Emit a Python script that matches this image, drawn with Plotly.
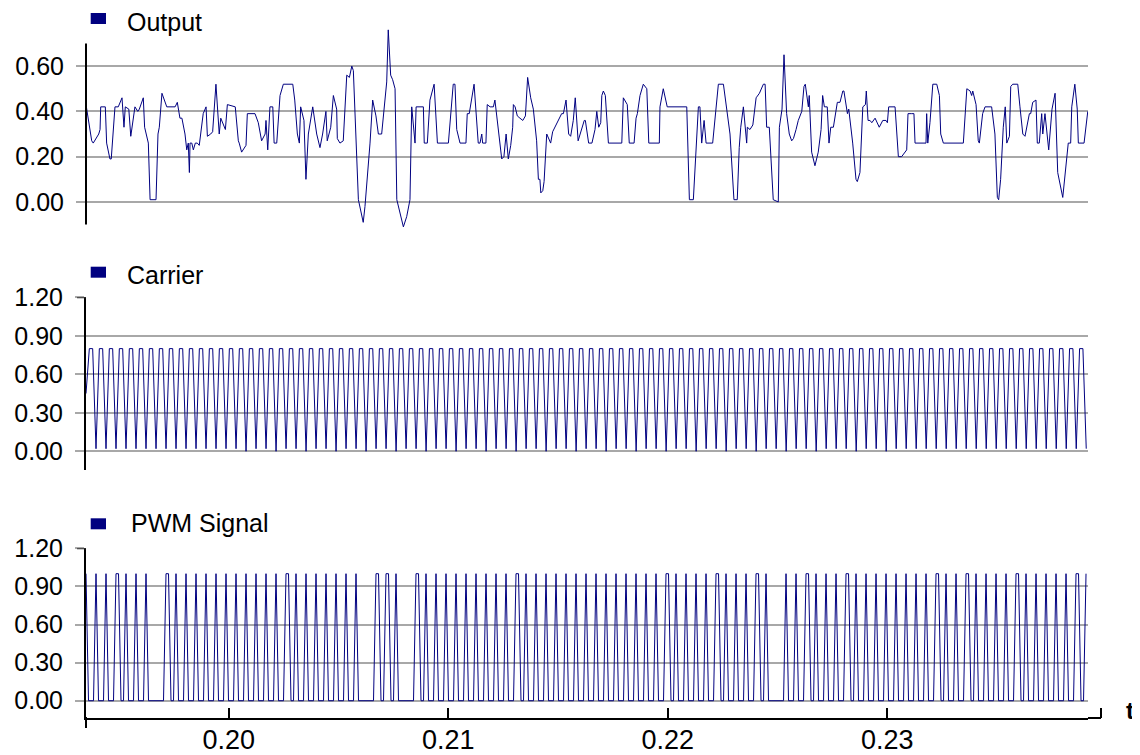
import plotly.graph_objects as go

# ---------------- data (times in milliseconds) ----------------
out_time_ms = [
    193.50, 193.76, 193.83, 193.99, 194.08, 194.14, 194.17, 194.38, 194.44, 194.59,
    194.65, 194.82, 194.97, 195.14, 195.23, 195.29, 195.45, 195.54, 195.73, 195.86,
    195.93, 196.11, 196.17, 196.34, 196.42, 196.69, 196.78, 196.84, 196.96, 197.18,
    197.56, 197.66, 197.78, 197.87, 198.01, 198.09, 198.16, 198.21, 198.24, 198.32,
    198.39, 198.48, 198.57, 198.66, 198.84, 198.97, 199.03, 199.18, 199.27, 199.42,
    199.57, 199.64, 199.76, 199.85, 199.94, 200.30, 200.44, 200.48, 200.59, 200.79,
    200.85, 201.20, 201.35, 201.50, 201.66, 201.70, 201.78, 201.88, 202.01, 202.07,
    202.19, 202.34, 202.49, 202.92, 203.01, 203.13, 203.22, 203.28, 203.43, 203.52,
    203.63, 203.83, 204.01, 204.16, 204.28, 204.43, 204.49, 204.65, 204.77, 204.92,
    204.95, 205.07, 205.22, 205.38, 205.50, 205.61, 205.68, 205.91, 206.13, 206.21,
    206.44, 206.56, 206.71, 206.82, 206.97, 207.20, 207.27, 207.38, 207.47, 207.58,
    207.66, 207.96, 208.11, 208.26, 208.34, 208.49, 208.54, 208.87, 208.91, 209.05,
    209.17, 209.36, 209.51, 210.01, 210.23, 210.31, 210.39, 210.54, 210.81, 210.87,
    210.96, 211.18, 211.37, 211.45, 211.53, 211.57, 211.72, 211.78, 211.91, 212.06,
    212.13, 212.28, 212.44, 212.54, 212.64, 212.74, 212.85, 212.94, 212.97, 213.05,
    213.15, 213.27, 213.40, 213.52, 213.62, 213.76, 213.88, 214.03, 214.11, 214.18,
    214.22, 214.31, 214.37, 214.49, 214.67, 214.76, 214.87, 214.95, 215.02, 215.17,
    215.25, 215.37, 215.49, 215.58, 215.70, 215.79, 215.92, 216.01, 216.10, 216.20,
    216.25, 216.40, 216.55, 216.69, 216.77, 216.86, 216.95, 217.00, 217.07, 217.16,
    217.30, 217.91, 217.98, 218.16, 218.25, 218.47, 218.56, 218.62, 218.74, 218.89,
    219.05, 219.14, 219.62, 219.65, 219.80, 219.98, 220.87, 220.99, 221.17, 221.29,
    221.40, 221.47, 221.55, 221.66, 221.75, 222.05, 222.20, 222.31, 222.54, 222.69,
    222.84, 223.02, 223.17, 223.26, 223.33, 223.45, 223.60, 223.63, 223.75, 223.88,
    224.03, 224.18, 224.36, 224.44, 224.51, 224.63, 224.81, 225.04, 225.09, 225.21,
    225.30, 225.42, 225.54, 225.65, 225.73, 225.85, 225.95, 226.11, 226.21, 226.27,
    226.41, 226.45, 226.56, 226.71, 226.86, 226.99, 227.06, 227.14, 227.27, 227.35,
    227.43, 227.55, 227.73, 227.85, 227.98, 228.03, 228.19, 228.25, 228.43, 228.58,
    228.64, 228.76, 228.89, 229.01, 229.05, 229.13, 229.22, 229.30, 229.45, 229.64,
    229.80, 229.95, 230.01, 230.07, 230.36, 230.51, 230.66, 230.89, 230.95, 231.12,
    231.22, 231.27, 231.77, 231.80, 231.85, 231.95, 232.08, 232.26, 232.38, 232.44,
    232.56, 233.47, 233.63, 233.78, 233.85, 233.90, 234.05, 234.15, 234.20, 234.35,
    234.46, 234.76, 234.91, 235.02, 235.08, 235.17, 235.29, 235.38, 235.45, 235.57,
    235.63, 235.72, 235.95, 236.05, 236.18, 236.28, 236.36, 236.48, 236.54, 236.63,
    236.78, 236.84, 236.93, 237.04, 237.09, 237.19, 237.36, 237.51, 237.65, 237.77,
    238.00, 238.15, 238.25, 238.36, 238.41, 238.55, 238.66, 238.71, 238.97, 239.14,
]
out_value = [
    0.43, 0.27, 0.26, 0.29, 0.30, 0.32, 0.42, 0.42, 0.26, 0.19,
    0.19, 0.42, 0.42, 0.46, 0.33, 0.42, 0.41, 0.29, 0.42, 0.40,
    0.41, 0.46, 0.33, 0.26, 0.01, 0.01, 0.30, 0.33, 0.48, 0.42,
    0.42, 0.44, 0.37, 0.37, 0.30, 0.23, 0.26, 0.13, 0.26, 0.26,
    0.23, 0.26, 0.26, 0.25, 0.39, 0.42, 0.29, 0.30, 0.31, 0.52,
    0.30, 0.37, 0.34, 0.32, 0.43, 0.42, 0.27, 0.26, 0.22, 0.25,
    0.39, 0.39, 0.35, 0.27, 0.30, 0.36, 0.23, 0.42, 0.42, 0.26,
    0.26, 0.47, 0.52, 0.52, 0.45, 0.30, 0.26, 0.42, 0.36, 0.10,
    0.30, 0.42, 0.30, 0.24, 0.30, 0.40, 0.27, 0.33, 0.47, 0.41,
    0.28, 0.26, 0.27, 0.56, 0.55, 0.60, 0.58, 0.01, -0.09, -0.02,
    0.26, 0.45, 0.38, 0.30, 0.30, 0.53, 0.76, 0.56, 0.54, 0.50,
    0.01, -0.11, -0.065, 0.01, 0.42, 0.26, 0.42, 0.42, 0.26, 0.26,
    0.45, 0.52, 0.26, 0.26, 0.52, 0.52, 0.32, 0.26, 0.26, 0.39,
    0.39, 0.52, 0.26, 0.26, 0.30, 0.26, 0.26, 0.43, 0.42, 0.42,
    0.45, 0.33, 0.19, 0.20, 0.30, 0.19, 0.25, 0.33, 0.43, 0.42,
    0.38, 0.37, 0.36, 0.38, 0.55, 0.46, 0.41, 0.27, 0.10, 0.10,
    0.04, 0.05, 0.09, 0.30, 0.26, 0.31, 0.33, 0.35, 0.36, 0.39,
    0.39, 0.45, 0.30, 0.29, 0.36, 0.46, 0.27, 0.30, 0.32, 0.36,
    0.36, 0.26, 0.26, 0.32, 0.40, 0.33, 0.35, 0.47, 0.49, 0.47,
    0.26, 0.26, 0.46, 0.43, 0.26, 0.26, 0.37, 0.39, 0.47, 0.52,
    0.50, 0.26, 0.26, 0.42, 0.50, 0.42, 0.42, 0.01, 0.01, 0.25,
    0.42, 0.42, 0.26, 0.36, 0.26, 0.26, 0.43, 0.52, 0.52, 0.42,
    0.30, 0.01, 0.01, 0.24, 0.33, 0.42, 0.26, 0.33, 0.32, 0.34,
    0.46, 0.48, 0.52, 0.52, 0.33, 0.33, 0.01, 0.00, 0.33, 0.41,
    0.65, 0.39, 0.30, 0.27, 0.28, 0.32, 0.36, 0.40, 0.51, 0.52,
    0.42, 0.47, 0.22, 0.16, 0.22, 0.32, 0.47, 0.42, 0.42, 0.26,
    0.33, 0.33, 0.44, 0.44, 0.49, 0.49, 0.39, 0.41, 0.26, 0.10,
    0.09, 0.13, 0.42, 0.43, 0.49, 0.36, 0.36, 0.35, 0.37, 0.33,
    0.36, 0.36, 0.35, 0.42, 0.42, 0.20, 0.20, 0.23, 0.39, 0.39,
    0.39, 0.26, 0.26, 0.39, 0.26, 0.35, 0.52, 0.52, 0.47, 0.30,
    0.26, 0.26, 0.50, 0.49, 0.47, 0.49, 0.43, 0.27, 0.26, 0.39,
    0.42, 0.42, 0.30, 0.02, 0.01, 0.10, 0.33, 0.42, 0.26, 0.29,
    0.51, 0.52, 0.52, 0.42, 0.30, 0.29, 0.33, 0.39, 0.39, 0.44,
    0.45, 0.26, 0.26, 0.39, 0.30, 0.39, 0.23, 0.41, 0.48, 0.13,
    0.02, 0.16, 0.26, 0.26, 0.42, 0.52, 0.41, 0.26, 0.26, 0.40,
]

# carrier: uniformly sampled simulation output
carrier_t0_ms = 193.5
carrier_dt_ms = 0.1519
carrier_value = [
    0.45,
    0.8, 0.8, 0.02, 0.8, 0.8, 0.02, 0.8, 0.8, 0.02, 0.8, 0.8, 0.02, 0.8, 0.8, 0.02,
    0.8, 0.8, 0.02, 0.8, 0.8, 0.02, 0.8, 0.8, 0.02, 0.8, 0.8, 0.02, 0.8, 0.8, 0.02,
    0.8, 0.8, 0.02, 0.8, 0.8, 0.02, 0.8, 0.8, 0.02, 0.8, 0.8, 0.02, 0.8, 0.8, 0.02,
    0.8, 0.8, 0.00, 0.8, 0.8, 0.02, 0.8, 0.8, 0.02, 0.8, 0.8, 0.00, 0.8, 0.8, 0.02,
    0.8, 0.8, 0.02, 0.8, 0.8, 0.00, 0.8, 0.8, 0.02, 0.8, 0.8, 0.02, 0.8, 0.8, 0.00,
    0.8, 0.8, 0.02, 0.8, 0.8, 0.02, 0.8, 0.8, 0.00, 0.8, 0.8, 0.02, 0.8, 0.8, 0.02,
    0.8, 0.8, 0.00, 0.8, 0.8, 0.02, 0.8, 0.8, 0.02, 0.8, 0.8, 0.00, 0.8, 0.8, 0.02,
    0.8, 0.8, 0.02, 0.8, 0.8, 0.00, 0.8, 0.8, 0.02, 0.8, 0.8, 0.02, 0.8, 0.8, 0.00,
    0.8, 0.8, 0.02, 0.8, 0.8, 0.02, 0.8, 0.8, 0.00, 0.8, 0.8, 0.02, 0.8, 0.8, 0.02,
    0.8, 0.8, 0.00, 0.8, 0.8, 0.02, 0.8, 0.8, 0.02, 0.8, 0.8, 0.00, 0.8, 0.8, 0.02,
    0.8, 0.8, 0.02, 0.8, 0.8, 0.00, 0.8, 0.8, 0.02, 0.8, 0.8, 0.02, 0.8, 0.8, 0.00,
    0.8, 0.8, 0.02, 0.8, 0.8, 0.02, 0.8, 0.8, 0.00, 0.8, 0.8, 0.02, 0.8, 0.8, 0.02,
    0.8, 0.8, 0.00, 0.8, 0.8, 0.02, 0.8, 0.8, 0.02, 0.8, 0.8, 0.00, 0.8, 0.8, 0.02,
    0.8, 0.8, 0.02, 0.8, 0.8, 0.00, 0.8, 0.8, 0.02, 0.8, 0.8, 0.02, 0.8, 0.8, 0.00,
    0.8, 0.8, 0.02, 0.8, 0.8, 0.02, 0.8, 0.8, 0.00, 0.8, 0.8, 0.02, 0.8, 0.8, 0.02,
    0.8, 0.8, 0.02, 0.8, 0.8, 0.00, 0.8, 0.8, 0.02, 0.8, 0.8, 0.02, 0.8, 0.8, 0.00,
    0.8, 0.8, 0.02, 0.8, 0.8, 0.02, 0.8, 0.8, 0.02, 0.8, 0.8, 0.02, 0.8, 0.8, 0.02,
    0.8, 0.8, 0.02, 0.8, 0.8, 0.02, 0.8, 0.8, 0.02, 0.8, 0.8, 0.02, 0.8, 0.8, 0.02,
    0.8, 0.8, 0.02, 0.8, 0.8, 0.02, 0.8, 0.8, 0.02, 0.8, 0.8, 0.02, 0.8, 0.8, 0.02,
    0.8, 0.8, 0.02, 0.8, 0.8, 0.02, 0.8, 0.8, 0.02, 0.8, 0.8, 0.02, 0.8, 0.8, 0.02,
]

# PWM signal: uniformly sampled simulation output
pwm_t0_ms = 193.5
pwm_dt_ms = 0.1139
pwm_value = [
    1, 0, 0, 0,
    1, 0, 0, 0, 1, 0, 0, 0, 1, 1, 0, 0, 1, 0, 0, 0, 1, 0, 0, 0,
    1, 0, 0, 0, 0, 0, 0, 0, 1, 1, 0, 0, 1, 0, 0, 0, 1, 0, 0, 0,
    1, 0, 0, 0, 1, 0, 0, 0, 1, 0, 0, 0, 1, 0, 0, 0, 1, 0, 0, 0,
    1, 0, 0, 0, 1, 0, 0, 0, 1, 0, 0, 0, 1, 0, 0, 0, 1, 1, 0, 0,
    1, 0, 0, 0, 1, 0, 0, 0, 1, 0, 0, 0, 1, 0, 0, 0, 1, 0, 0, 0,
    1, 0, 0, 0, 1, 0, 0, 0, 0, 0, 0, 0, 1, 1, 0, 0, 1, 1, 0, 0,
    1, 0, 0, 0, 0, 0, 0, 0, 1, 1, 0, 0, 1, 0, 0, 0, 1, 0, 0, 0,
    1, 0, 0, 0, 1, 0, 0, 0, 1, 0, 0, 0, 1, 0, 0, 0, 1, 0, 0, 0,
    1, 0, 0, 0, 1, 0, 0, 0, 1, 1, 0, 0, 1, 0, 0, 0, 1, 0, 0, 0,
    1, 0, 0, 0, 1, 0, 0, 0, 1, 0, 0, 0, 1, 0, 0, 0, 1, 0, 0, 0,
    1, 0, 0, 0, 1, 0, 0, 0, 1, 0, 0, 0, 1, 0, 0, 0, 1, 0, 0, 0,
    1, 0, 0, 0, 1, 0, 0, 0, 1, 1, 0, 0, 1, 0, 0, 0, 1, 0, 0, 0,
    1, 0, 0, 0, 1, 0, 0, 0, 1, 1, 0, 0, 1, 0, 0, 0, 1, 0, 0, 0,
    1, 0, 0, 0, 1, 1, 0, 0, 1, 0, 0, 0, 0, 0, 0, 0, 1, 0, 0, 0,
    1, 0, 0, 0, 1, 1, 0, 0, 1, 0, 0, 0, 1, 0, 0, 0, 1, 0, 0, 0,
    1, 1, 0, 0, 1, 0, 0, 0, 1, 0, 0, 0, 1, 0, 0, 0, 1, 0, 0, 0,
    1, 0, 0, 0, 1, 0, 0, 0, 1, 0, 0, 0, 1, 0, 0, 0, 1, 1, 0, 0,
    1, 0, 0, 0, 1, 0, 0, 0, 1, 1, 0, 0, 1, 0, 0, 0, 1, 0, 0, 0,
    1, 0, 0, 0, 1, 0, 0, 0, 1, 1, 0, 0, 1, 0, 0, 0, 1, 0, 0, 0,
    1, 0, 0, 0, 1, 0, 0, 0, 1, 0, 0, 0, 1, 1, 0, 0, 1,
]

x_tick_values = [0.20, 0.21, 0.22, 0.23]
x_tick_labels = ["0.20", "0.21", "0.22", "0.23"]
out_tick_values = [0.0, 0.2, 0.4, 0.6]
out_tick_labels = ["0.00", "0.20", "0.40", "0.60"]
sig_tick_values = [0.0, 0.3, 0.6, 0.9, 1.2]
sig_tick_labels = ["0.00", "0.30", "0.60", "0.90", "1.20"]
panel_names = ["Output", "Carrier", "PWM Signal"]

# ---------------- build ----------------
out_t = [v / 1000.0 for v in out_time_ms]
carrier_t = [(carrier_t0_ms + i * carrier_dt_ms) / 1000.0 for i in range(len(carrier_value))]
pwm_t = [(pwm_t0_ms + i * pwm_dt_ms) / 1000.0 for i in range(len(pwm_value))]

FONT = "Liberation Sans, Arial, sans-serif"
NAVY = "#000080"
GRID = "#a8a8a8"
OFF = 8                      # page body margin of the html file
W, H = 1140 - OFF, 755 - OFF
PLOT_L, PLOT_R = 86, 1088    # plot area in page pixels
ML, MR = PLOT_L - OFF, W - (PLOT_R - OFF)
PW = PLOT_R - PLOT_L


def py(page_y):
    """page pixel row -> paper fraction"""
    return 1 - (page_y - OFF) / H


def px(page_x):
    """page pixel column -> paper fraction"""
    return (page_x - PLOT_L) / PW


def dom(top_px, bot_px):
    return [py(bot_px), py(top_px)]


fig = go.Figure()
fig.add_trace(go.Scatter(x=out_t, y=out_value, mode="lines", xaxis="x2", yaxis="y",
                         line=dict(color=NAVY, width=1), name=panel_names[0], hoverinfo="skip"))
fig.add_trace(go.Scatter(x=carrier_t, y=carrier_value, mode="lines", xaxis="x3", yaxis="y2",
                         line=dict(color=NAVY, width=1), name=panel_names[1], hoverinfo="skip"))
fig.add_trace(go.Scatter(x=pwm_t, y=pwm_value, mode="lines", xaxis="x", yaxis="y3",
                         line=dict(color=NAVY, width=1), name=panel_names[2], hoverinfo="skip"))

x_range = [0.1935, 0.23915]
common_y = dict(showgrid=True, gridcolor=GRID, gridwidth=2, zeroline=False,
                ticks="outside", ticklen=9, tickwidth=2, tickcolor=GRID,
                tickfont=dict(size=25, color="black", family=FONT),
                ticklabelstandoff=7, fixedrange=True, automargin=False)

fig.update_layout(
    template="none",
    width=W, height=H, autosize=False,
    margin=dict(l=ML, r=MR, t=0, b=0, pad=0),
    paper_bgcolor="white", plot_bgcolor="white",
    showlegend=False,
    font=dict(family=FONT, color="black"),
    xaxis=dict(domain=[0, 1], range=x_range, anchor="y3", showline=True, linecolor="black",
               linewidth=2, ticks="inside", ticklen=10, tickwidth=2, tickcolor="black",
               tickvals=x_tick_values, ticktext=x_tick_labels, showgrid=False, zeroline=False,
               tickfont=dict(size=27, color="black", family=FONT), ticklabelstandoff=-3,
               automargin=False, fixedrange=True),
    xaxis2=dict(domain=[0, 1], matches="x", anchor="y", visible=False, automargin=False),
    xaxis3=dict(domain=[0, 1], matches="x", anchor="y2", visible=False, automargin=False),
    yaxis=dict(domain=dom(27.6, 228.0), range=[-0.115, 0.77], anchor="x2",
               tickvals=out_tick_values, ticktext=out_tick_labels, showline=False, **common_y),
    yaxis2=dict(domain=dom(297.3, 470.0), range=[-0.146, 1.2], anchor="x3",
                tickvals=sig_tick_values, ticktext=sig_tick_labels, showline=True,
                linecolor="black", linewidth=2, **common_y),
    yaxis3=dict(domain=dom(548.3, 718.0), range=[-0.136, 1.2], anchor="x",
                tickvals=sig_tick_values, ticktext=sig_tick_labels, showline=True,
                linecolor="black", linewidth=2, **common_y),
)

shapes = []
# Output y-axis line (stops at 0.70 / -0.10 like the original)
shapes.append(dict(type="line", xref="paper", yref="y", x0=0, x1=0, y0=-0.10, y1=0.70,
                   line=dict(color="black", width=2)))
# PWM y-axis continues slightly below the time axis
shapes.append(dict(type="line", xref="paper", yref="paper", x0=0, x1=0, y0=py(728), y1=py(717),
                   line=dict(color="black", width=2)))
# dark top ticks at 1.20
for yr in ["y2", "y3"]:
    shapes.append(dict(type="line", xref="paper", yref=yr, x0=px(77), x1=0, y0=1.2, y1=1.2,
                       line=dict(color="#333333", width=2)))
# x-axis extension with end tick
xe = px(1101)
shapes.append(dict(type="line", xref="paper", yref="paper", x0=1, x1=xe, y0=py(718), y1=py(718),
                   line=dict(color="black", width=2)))
shapes.append(dict(type="line", xref="paper", yref="paper", x0=xe, x1=xe, y0=py(718), y1=py(708),
                   line=dict(color="black", width=2)))
# legend squares
for (top, bot) in [(13, 24), (266.7, 277.7), (518.3, 529.3)]:
    shapes.append(dict(type="rect", xref="paper", yref="paper",
                       x0=px(90.7), x1=px(106), y0=py(bot), y1=py(top),
                       fillcolor=NAVY, line=dict(width=0)))

annotations = []
for name, xpx, ypx in [(panel_names[0], 125, 21.5), (panel_names[1], 125, 274.5), (panel_names[2], 129, 523)]:
    annotations.append(dict(text=name, xref="paper", yref="paper", x=px(xpx), y=py(ypx),
                            xanchor="left", yanchor="middle", showarrow=False,
                            font=dict(size=25, color="black", family=FONT)))
annotations.append(dict(text="<b>t</b>", xref="paper", yref="paper", x=px(1130), y=py(710),
                        xanchor="center", yanchor="middle", showarrow=False,
                        font=dict(size=24, color="black", family=FONT)))

fig.update_layout(shapes=shapes, annotations=annotations)
fig.write_html("out.html")
